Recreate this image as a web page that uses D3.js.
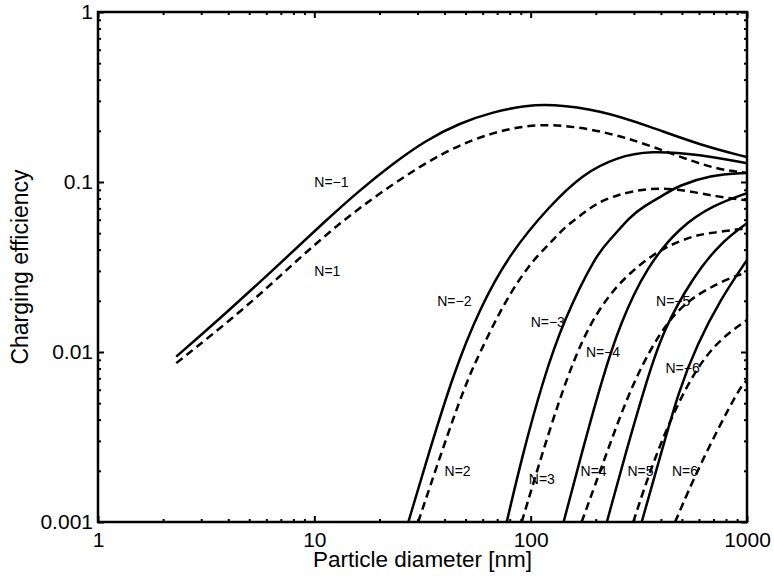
<!DOCTYPE html>
<html>
<head>
<meta charset="utf-8">
<script src="https://cdn.jsdelivr.net/npm/d3@7"></script>
<style>
  body { margin: 0; background: #fff; }
  text { font-family: "Liberation Sans", Arial, Helvetica, sans-serif; fill: #000; }
</style>
</head>
<body>
<div id="chart"></div>
<script>
// [diameter nm, charging efficiency]
// negative charges (solid lines)
var neg1 = [[2.3, 0.0094], [3.9, 0.0169], [6.7, 0.0318], [11.4, 0.060], [16.3, 0.090], [23.2, 0.129],
            [33, 0.177], [47, 0.222], [67, 0.259], [96, 0.282], [123, 0.288], [209, 0.265],
            [356, 0.212], [607, 0.165], [1000, 0.140]];
var neg2 = [[27.2, 0.001], [34, 0.0026], [44, 0.0075], [58, 0.018], [80, 0.038], [123, 0.073],
            [175, 0.112], [250, 0.140], [356, 0.153], [607, 0.145], [1000, 0.129]];
var neg3 = [[77.5, 0.001], [92.5, 0.0026], [114, 0.0068], [142, 0.0154], [202, 0.038], [233, 0.0456],
            [288, 0.0625], [331, 0.0716], [425, 0.0858], [473, 0.094], [675, 0.110], [1000, 0.113]];
var neg4 = [[142, 0.001], [173, 0.0026], [213, 0.0068], [259, 0.0147], [344, 0.0318], [490, 0.0546],
            [699, 0.0732], [1000, 0.086]];
var neg5 = [[225, 0.001], [276, 0.0026], [344, 0.0068], [410, 0.0135], [565, 0.0277], [750, 0.0436],
            [1000, 0.0572]];
var neg6 = [[326, 0.001], [396, 0.0024], [485, 0.006], [587, 0.011], [750, 0.0202], [1000, 0.0348]];

// positive charges (dashed lines)
var pos1 = [[2.3, 0.0086], [4.7, 0.0177], [8.0, 0.0332], [13.6, 0.060], [23.2, 0.098], [39.5, 0.151],
            [67, 0.198], [114, 0.224], [209, 0.202], [356, 0.165], [675, 0.120], [1000, 0.113]];
var pos2 = [[30.2, 0.001], [38.8, 0.0026], [50, 0.0065], [58, 0.0098], [75, 0.0193], [99, 0.0332],
            [123, 0.0436], [142, 0.0536], [175, 0.0655], [202, 0.075], [250, 0.084], [356, 0.093],
            [508, 0.090], [724, 0.082], [1000, 0.078]];
var pos3 = [[90.9, 0.001], [137, 0.0057], [188, 0.0154], [268, 0.0277], [410, 0.0416], [585, 0.0488],
            [675, 0.050], [1000, 0.0536]];
var pos4 = [[172, 0.001], [226, 0.0026], [298, 0.0068], [425, 0.0154], [585, 0.0221], [896, 0.0284],
            [1000, 0.0292]];
var pos5 = [[298, 0.001], [369, 0.0023], [508, 0.006], [699, 0.0112], [1000, 0.0154]];
var pos6 = [[465, 0.001], [607, 0.0022], [929, 0.0063], [1000, 0.0068]];

// curve annotations: text, diameter, efficiency
var curveLabels = [
  ["N=−1", 10, 0.1], ["N=1", 10, 0.03],
  ["N=−2", 37, 0.02], ["N=−3", 100, 0.015], ["N=−4", 180, 0.01],
  ["N=−5", 380, 0.02], ["N=−6", 420, 0.008],
  ["N=2", 40, 0.002], ["N=3", 98, 0.0018], ["N=4", 170, 0.002],
  ["N=5", 280, 0.002], ["N=6", 450, 0.002]
];

var xTicks = [1, 10, 100, 1000];
var xTickLabels = ["1", "10", "100", "1000"];
var yTicks = [0.001, 0.01, 0.1, 1];
var yTickLabels = ["0.001", "0.01", "0.1", "1"];

var W = 774, H = 579;
var margin = { top: 12, right: 27, bottom: 57, left: 98 };
var width = W - margin.left - margin.right;
var height = H - margin.top - margin.bottom;

var svg = d3.select("#chart").append("svg")
  .attr("width", W)
  .attr("height", H);

svg.append("rect").attr("width", W).attr("height", H).attr("fill", "#fff");

var g = svg.append("g")
  .attr("transform", "translate(" + margin.left + "," + margin.top + ")");

var xScale = d3.scaleLog().domain([1, 1000]).range([0, width]);
var yScale = d3.scaleLog().domain([0.001, 1]).range([height, 0]);

// minor tick positions 2..9 per decade
var xMinor = [], yMinor = [];
[1, 10, 100].forEach(function(p) { for (var k = 2; k < 10; k++) xMinor.push(k * p); });
[0.001, 0.01, 0.1].forEach(function(p) { for (var k = 2; k < 10; k++) yMinor.push(+(k * p).toPrecision(3)); });

g.append("defs").append("clipPath").attr("id", "plotClip")
  .append("rect").attr("width", width).attr("height", height);

// labels under the lines
g.append("g").selectAll("text")
  .data(curveLabels)
  .enter()
  .append("text")
  .attr("x", d => xScale(d[1]))
  .attr("y", d => yScale(d[2]))
  .attr("dy", "0.35em")
  .style("font-size", "14px")
  .text(d => d[0]);

var line = d3.line()
  .x(d => xScale(d[0]))
  .y(d => yScale(d[1]))
  .curve(d3.curveBasis);

var series = [
  { data: neg1, dashed: false }, { data: neg2, dashed: false }, { data: neg3, dashed: false },
  { data: neg4, dashed: false }, { data: neg5, dashed: false }, { data: neg6, dashed: false },
  { data: pos1, dashed: true }, { data: pos2, dashed: true }, { data: pos3, dashed: true },
  { data: pos4, dashed: true }, { data: pos5, dashed: true }, { data: pos6, dashed: true }
];

g.append("g")
  .attr("clip-path", "url(#plotClip)")
  .selectAll("path")
  .data(series)
  .enter()
  .append("path")
  .attr("d", d => line(d.data))
  .attr("fill", "none")
  .attr("stroke", "#000")
  .attr("stroke-width", 2.5)
  .attr("stroke-dasharray", d => d.dashed ? "8,5" : null);

// axes, ticks pointing inward
function styleAxis(sel) {
  sel.select(".domain").remove();
  sel.selectAll(".tick line").attr("stroke", "#000").attr("stroke-width", 2);
  sel.selectAll(".tick text").style("font-size", "21px").attr("fill", "#000");
}

g.append("g")
  .attr("transform", "translate(0," + height + ")")
  .call(d3.axisBottom(xScale).tickValues(xTicks).tickSize(-6).tickPadding(10)
    .tickFormat((d, i) => xTickLabels[i]))
  .call(styleAxis);
g.append("g")
  .attr("transform", "translate(0," + height + ")")
  .call(d3.axisBottom(xScale).tickValues(xMinor).tickSize(-3).tickFormat(""))
  .call(styleAxis);
g.append("g")
  .call(d3.axisTop(xScale).tickValues(xTicks).tickSize(-6).tickFormat(""))
  .call(styleAxis);
g.append("g")
  .call(d3.axisTop(xScale).tickValues(xMinor).tickSize(-3).tickFormat(""))
  .call(styleAxis);

g.append("g")
  .call(d3.axisLeft(yScale).tickValues(yTicks).tickSize(-6).tickPadding(5)
    .tickFormat((d, i) => yTickLabels[i]))
  .call(styleAxis);
g.append("g")
  .call(d3.axisLeft(yScale).tickValues(yMinor).tickSize(-3).tickFormat(""))
  .call(styleAxis);
g.append("g")
  .attr("transform", "translate(" + width + ",0)")
  .call(d3.axisRight(yScale).tickValues(yTicks).tickSize(-6).tickFormat(""))
  .call(styleAxis);
g.append("g")
  .attr("transform", "translate(" + width + ",0)")
  .call(d3.axisRight(yScale).tickValues(yMinor).tickSize(-3).tickFormat(""))
  .call(styleAxis);

// frame
g.append("rect")
  .attr("width", width)
  .attr("height", height)
  .attr("fill", "none")
  .attr("stroke", "#000")
  .attr("stroke-width", 2.5);

// axis titles
g.append("text")
  .attr("x", width / 2)
  .attr("y", height + 45)
  .attr("text-anchor", "middle")
  .style("font-size", "22.5px")
  .text("Particle diameter [nm]");

g.append("text")
  .attr("transform", "translate(" + (28 - margin.left) + "," + (height / 2) + ") rotate(-90)")
  .attr("text-anchor", "middle")
  .style("font-size", "23px")
  .text("Charging efficiency");
</script>
</body>
</html>
